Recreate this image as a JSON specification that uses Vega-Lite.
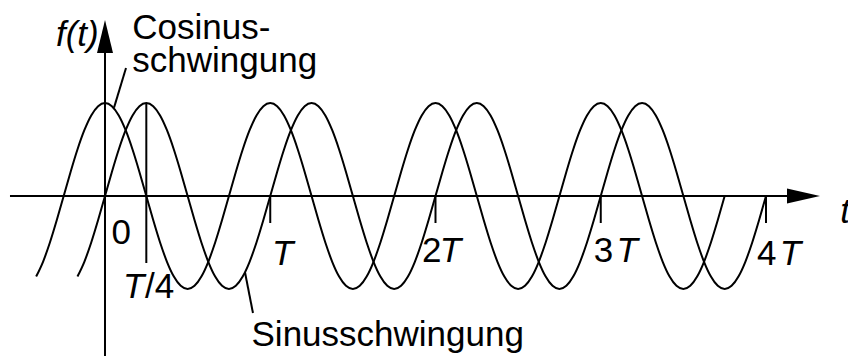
{
  "$schema": "https://vega.github.io/schema/vega-lite/v6.json",
  "width": 848,
  "height": 356,
  "padding": 0,
  "autosize": {"type": "none"},
  "background": "white",
  "config": {
    "view": {"stroke": null},
    "text": {"font": "Liberation Sans", "fontSize": 35, "color": "black", "align": "left", "baseline": "alphabetic"}
  },
  "datasets": {
    "wellen": [
      {"welle": "Cosinus", "n": -10, "f": -0.866}, {"welle": "Cosinus", "n": -9, "f": -0.7071}, {"welle": "Cosinus", "n": -8, "f": -0.5}, {"welle": "Cosinus", "n": -7, "f": -0.2588},
      {"welle": "Cosinus", "n": -6, "f": 0}, {"welle": "Cosinus", "n": -5, "f": 0.2588}, {"welle": "Cosinus", "n": -4, "f": 0.5}, {"welle": "Cosinus", "n": -3, "f": 0.7071},
      {"welle": "Cosinus", "n": -2, "f": 0.866}, {"welle": "Cosinus", "n": -1, "f": 0.9659}, {"welle": "Cosinus", "n": 0, "f": 1}, {"welle": "Cosinus", "n": 1, "f": 0.9659},
      {"welle": "Cosinus", "n": 2, "f": 0.866}, {"welle": "Cosinus", "n": 3, "f": 0.7071}, {"welle": "Cosinus", "n": 4, "f": 0.5}, {"welle": "Cosinus", "n": 5, "f": 0.2588},
      {"welle": "Cosinus", "n": 6, "f": 0}, {"welle": "Cosinus", "n": 7, "f": -0.2588}, {"welle": "Cosinus", "n": 8, "f": -0.5}, {"welle": "Cosinus", "n": 9, "f": -0.7071},
      {"welle": "Cosinus", "n": 10, "f": -0.866}, {"welle": "Cosinus", "n": 11, "f": -0.9659}, {"welle": "Cosinus", "n": 12, "f": -1}, {"welle": "Cosinus", "n": 13, "f": -0.9659},
      {"welle": "Cosinus", "n": 14, "f": -0.866}, {"welle": "Cosinus", "n": 15, "f": -0.7071}, {"welle": "Cosinus", "n": 16, "f": -0.5}, {"welle": "Cosinus", "n": 17, "f": -0.2588},
      {"welle": "Cosinus", "n": 18, "f": 0}, {"welle": "Cosinus", "n": 19, "f": 0.2588}, {"welle": "Cosinus", "n": 20, "f": 0.5}, {"welle": "Cosinus", "n": 21, "f": 0.7071},
      {"welle": "Cosinus", "n": 22, "f": 0.866}, {"welle": "Cosinus", "n": 23, "f": 0.9659}, {"welle": "Cosinus", "n": 24, "f": 1}, {"welle": "Cosinus", "n": 25, "f": 0.9659},
      {"welle": "Cosinus", "n": 26, "f": 0.866}, {"welle": "Cosinus", "n": 27, "f": 0.7071}, {"welle": "Cosinus", "n": 28, "f": 0.5}, {"welle": "Cosinus", "n": 29, "f": 0.2588},
      {"welle": "Cosinus", "n": 30, "f": 0}, {"welle": "Cosinus", "n": 31, "f": -0.2588}, {"welle": "Cosinus", "n": 32, "f": -0.5}, {"welle": "Cosinus", "n": 33, "f": -0.7071},
      {"welle": "Cosinus", "n": 34, "f": -0.866}, {"welle": "Cosinus", "n": 35, "f": -0.9659}, {"welle": "Cosinus", "n": 36, "f": -1}, {"welle": "Cosinus", "n": 37, "f": -0.9659},
      {"welle": "Cosinus", "n": 38, "f": -0.866}, {"welle": "Cosinus", "n": 39, "f": -0.7071}, {"welle": "Cosinus", "n": 40, "f": -0.5}, {"welle": "Cosinus", "n": 41, "f": -0.2588},
      {"welle": "Cosinus", "n": 42, "f": 0}, {"welle": "Cosinus", "n": 43, "f": 0.2588}, {"welle": "Cosinus", "n": 44, "f": 0.5}, {"welle": "Cosinus", "n": 45, "f": 0.7071},
      {"welle": "Cosinus", "n": 46, "f": 0.866}, {"welle": "Cosinus", "n": 47, "f": 0.9659}, {"welle": "Cosinus", "n": 48, "f": 1}, {"welle": "Cosinus", "n": 49, "f": 0.9659},
      {"welle": "Cosinus", "n": 50, "f": 0.866}, {"welle": "Cosinus", "n": 51, "f": 0.7071}, {"welle": "Cosinus", "n": 52, "f": 0.5}, {"welle": "Cosinus", "n": 53, "f": 0.2588},
      {"welle": "Cosinus", "n": 54, "f": 0}, {"welle": "Cosinus", "n": 55, "f": -0.2588}, {"welle": "Cosinus", "n": 56, "f": -0.5}, {"welle": "Cosinus", "n": 57, "f": -0.7071},
      {"welle": "Cosinus", "n": 58, "f": -0.866}, {"welle": "Cosinus", "n": 59, "f": -0.9659}, {"welle": "Cosinus", "n": 60, "f": -1}, {"welle": "Cosinus", "n": 61, "f": -0.9659},
      {"welle": "Cosinus", "n": 62, "f": -0.866}, {"welle": "Cosinus", "n": 63, "f": -0.7071}, {"welle": "Cosinus", "n": 64, "f": -0.5}, {"welle": "Cosinus", "n": 65, "f": -0.2588},
      {"welle": "Cosinus", "n": 66, "f": 0}, {"welle": "Cosinus", "n": 67, "f": 0.2588}, {"welle": "Cosinus", "n": 68, "f": 0.5}, {"welle": "Cosinus", "n": 69, "f": 0.7071},
      {"welle": "Cosinus", "n": 70, "f": 0.866}, {"welle": "Cosinus", "n": 71, "f": 0.9659}, {"welle": "Cosinus", "n": 72, "f": 1}, {"welle": "Cosinus", "n": 73, "f": 0.9659},
      {"welle": "Cosinus", "n": 74, "f": 0.866}, {"welle": "Cosinus", "n": 75, "f": 0.7071}, {"welle": "Cosinus", "n": 76, "f": 0.5}, {"welle": "Cosinus", "n": 77, "f": 0.2588},
      {"welle": "Cosinus", "n": 78, "f": 0}, {"welle": "Cosinus", "n": 79, "f": -0.2588}, {"welle": "Cosinus", "n": 80, "f": -0.5}, {"welle": "Cosinus", "n": 81, "f": -0.7071},
      {"welle": "Cosinus", "n": 82, "f": -0.866}, {"welle": "Cosinus", "n": 83, "f": -0.9659}, {"welle": "Cosinus", "n": 84, "f": -1}, {"welle": "Cosinus", "n": 85, "f": -0.9659},
      {"welle": "Cosinus", "n": 86, "f": -0.866}, {"welle": "Cosinus", "n": 87, "f": -0.7071}, {"welle": "Cosinus", "n": 88, "f": -0.5}, {"welle": "Cosinus", "n": 89, "f": -0.2588},
      {"welle": "Cosinus", "n": 90, "f": 0},
      {"welle": "Sinus", "n": -4, "f": -0.866}, {"welle": "Sinus", "n": -3, "f": -0.7071}, {"welle": "Sinus", "n": -2, "f": -0.5}, {"welle": "Sinus", "n": -1, "f": -0.2588},
      {"welle": "Sinus", "n": 0, "f": 0}, {"welle": "Sinus", "n": 1, "f": 0.2588}, {"welle": "Sinus", "n": 2, "f": 0.5}, {"welle": "Sinus", "n": 3, "f": 0.7071},
      {"welle": "Sinus", "n": 4, "f": 0.866}, {"welle": "Sinus", "n": 5, "f": 0.9659}, {"welle": "Sinus", "n": 6, "f": 1}, {"welle": "Sinus", "n": 7, "f": 0.9659},
      {"welle": "Sinus", "n": 8, "f": 0.866}, {"welle": "Sinus", "n": 9, "f": 0.7071}, {"welle": "Sinus", "n": 10, "f": 0.5}, {"welle": "Sinus", "n": 11, "f": 0.2588},
      {"welle": "Sinus", "n": 12, "f": 0}, {"welle": "Sinus", "n": 13, "f": -0.2588}, {"welle": "Sinus", "n": 14, "f": -0.5}, {"welle": "Sinus", "n": 15, "f": -0.7071},
      {"welle": "Sinus", "n": 16, "f": -0.866}, {"welle": "Sinus", "n": 17, "f": -0.9659}, {"welle": "Sinus", "n": 18, "f": -1}, {"welle": "Sinus", "n": 19, "f": -0.9659},
      {"welle": "Sinus", "n": 20, "f": -0.866}, {"welle": "Sinus", "n": 21, "f": -0.7071}, {"welle": "Sinus", "n": 22, "f": -0.5}, {"welle": "Sinus", "n": 23, "f": -0.2588},
      {"welle": "Sinus", "n": 24, "f": 0}, {"welle": "Sinus", "n": 25, "f": 0.2588}, {"welle": "Sinus", "n": 26, "f": 0.5}, {"welle": "Sinus", "n": 27, "f": 0.7071},
      {"welle": "Sinus", "n": 28, "f": 0.866}, {"welle": "Sinus", "n": 29, "f": 0.9659}, {"welle": "Sinus", "n": 30, "f": 1}, {"welle": "Sinus", "n": 31, "f": 0.9659},
      {"welle": "Sinus", "n": 32, "f": 0.866}, {"welle": "Sinus", "n": 33, "f": 0.7071}, {"welle": "Sinus", "n": 34, "f": 0.5}, {"welle": "Sinus", "n": 35, "f": 0.2588},
      {"welle": "Sinus", "n": 36, "f": 0}, {"welle": "Sinus", "n": 37, "f": -0.2588}, {"welle": "Sinus", "n": 38, "f": -0.5}, {"welle": "Sinus", "n": 39, "f": -0.7071},
      {"welle": "Sinus", "n": 40, "f": -0.866}, {"welle": "Sinus", "n": 41, "f": -0.9659}, {"welle": "Sinus", "n": 42, "f": -1}, {"welle": "Sinus", "n": 43, "f": -0.9659},
      {"welle": "Sinus", "n": 44, "f": -0.866}, {"welle": "Sinus", "n": 45, "f": -0.7071}, {"welle": "Sinus", "n": 46, "f": -0.5}, {"welle": "Sinus", "n": 47, "f": -0.2588},
      {"welle": "Sinus", "n": 48, "f": 0}, {"welle": "Sinus", "n": 49, "f": 0.2588}, {"welle": "Sinus", "n": 50, "f": 0.5}, {"welle": "Sinus", "n": 51, "f": 0.7071},
      {"welle": "Sinus", "n": 52, "f": 0.866}, {"welle": "Sinus", "n": 53, "f": 0.9659}, {"welle": "Sinus", "n": 54, "f": 1}, {"welle": "Sinus", "n": 55, "f": 0.9659},
      {"welle": "Sinus", "n": 56, "f": 0.866}, {"welle": "Sinus", "n": 57, "f": 0.7071}, {"welle": "Sinus", "n": 58, "f": 0.5}, {"welle": "Sinus", "n": 59, "f": 0.2588},
      {"welle": "Sinus", "n": 60, "f": 0}, {"welle": "Sinus", "n": 61, "f": -0.2588}, {"welle": "Sinus", "n": 62, "f": -0.5}, {"welle": "Sinus", "n": 63, "f": -0.7071},
      {"welle": "Sinus", "n": 64, "f": -0.866}, {"welle": "Sinus", "n": 65, "f": -0.9659}, {"welle": "Sinus", "n": 66, "f": -1}, {"welle": "Sinus", "n": 67, "f": -0.9659},
      {"welle": "Sinus", "n": 68, "f": -0.866}, {"welle": "Sinus", "n": 69, "f": -0.7071}, {"welle": "Sinus", "n": 70, "f": -0.5}, {"welle": "Sinus", "n": 71, "f": -0.2588},
      {"welle": "Sinus", "n": 72, "f": 0}, {"welle": "Sinus", "n": 73, "f": 0.2588}, {"welle": "Sinus", "n": 74, "f": 0.5}, {"welle": "Sinus", "n": 75, "f": 0.7071},
      {"welle": "Sinus", "n": 76, "f": 0.866}, {"welle": "Sinus", "n": 77, "f": 0.9659}, {"welle": "Sinus", "n": 78, "f": 1}, {"welle": "Sinus", "n": 79, "f": 0.9659},
      {"welle": "Sinus", "n": 80, "f": 0.866}, {"welle": "Sinus", "n": 81, "f": 0.7071}, {"welle": "Sinus", "n": 82, "f": 0.5}, {"welle": "Sinus", "n": 83, "f": 0.2588},
      {"welle": "Sinus", "n": 84, "f": 0}, {"welle": "Sinus", "n": 85, "f": -0.2588}, {"welle": "Sinus", "n": 86, "f": -0.5}, {"welle": "Sinus", "n": 87, "f": -0.7071},
      {"welle": "Sinus", "n": 88, "f": -0.866}, {"welle": "Sinus", "n": 89, "f": -0.9659}, {"welle": "Sinus", "n": 90, "f": -1}, {"welle": "Sinus", "n": 91, "f": -0.9659},
      {"welle": "Sinus", "n": 92, "f": -0.866}, {"welle": "Sinus", "n": 93, "f": -0.7071}, {"welle": "Sinus", "n": 94, "f": -0.5}, {"welle": "Sinus", "n": 95, "f": -0.2588},
      {"welle": "Sinus", "n": 96, "f": 0}
    ],
    "linien": [
      {"teil": "t-Achse", "n1": -13.8, "f1": 0, "n2": 99.5, "f2": 0},
      {"teil": "f-Achse", "n1": 0, "f1": -1.7204, "n2": 0, "f2": 1.57},
      {"teil": "Marke T/4", "n1": 6, "f1": 1, "n2": 6, "f2": -0.7204},
      {"teil": "Marke T", "n1": 24, "f1": 0, "n2": 24, "f2": -0.2903},
      {"teil": "Marke 2T", "n1": 48, "f1": 0, "n2": 48, "f2": -0.2903},
      {"teil": "Marke 3T", "n1": 72, "f1": 0, "n2": 72, "f2": -0.2903},
      {"teil": "Marke 4T", "n1": 96, "f1": 0, "n2": 96, "f2": -0.2903},
      {"teil": "Hinweis Cosinus", "n1": 3.05, "f1": 1.376, "n2": 1.31, "f2": 0.95},
      {"teil": "Hinweis Sinus", "n1": 20.33, "f1": -0.82, "n2": 21.49, "f2": -1.258}
    ],
    "text_normal": [
      {"txt": "Cosinus-", "n": 3.96, "f": 1.688},
      {"txt": "schwingung", "n": 3.96, "f": 1.333},
      {"txt": "Sinusschwingung", "n": 21.28, "f": -1.618},
      {"txt": "0", "n": 0.94, "f": -0.5215},
      {"txt": "/4", "n": 5.81, "f": -1.097},
      {"txt": "2", "n": 46.04, "f": -0.7065},
      {"txt": "3", "n": 71.0, "f": -0.7065},
      {"txt": "4", "n": 94.69, "f": -0.742}
    ],
    "text_kursiv": [
      {"txt": "f(t)", "n": -7.12, "f": 1.613},
      {"txt": "T", "n": 2.61, "f": -1.097},
      {"txt": "T", "n": 24.25, "f": -0.742},
      {"txt": "T", "n": 48.6, "f": -0.7065},
      {"txt": "T", "n": 74.3, "f": -0.7065},
      {"txt": "T", "n": 98.0, "f": -0.742},
      {"txt": "t", "n": 106.8, "f": -0.2903}
    ]
  },
  "layer": [
    {
      "data": {"name": "wellen"},
      "mark": {"type": "line", "interpolate": "monotone", "stroke": "black", "strokeWidth": 2},
      "encoding": {
        "x": {"field": "n", "type": "quantitative", "scale": {"domain": [-15.2496, 107.9093], "nice": false, "zero": false}, "axis": null},
        "y": {"field": "f", "type": "quantitative", "scale": {"domain": [-1.72043, 2.10753], "nice": false, "zero": false}, "axis": null},
        "detail": {"field": "welle", "type": "nominal"}
      }
    },
    {
      "data": {"name": "linien"},
      "mark": {"type": "rule", "stroke": "black", "strokeWidth": 2},
      "encoding": {
        "x": {"field": "n1", "type": "quantitative", "axis": null},
        "y": {"field": "f1", "type": "quantitative", "axis": null},
        "x2": {"field": "n2"},
        "y2": {"field": "f2"}
      }
    },
    {
      "data": {"values": [{"n": 101.445, "f": 0}]},
      "mark": {"type": "point", "filled": true, "fill": "black", "strokeWidth": 0, "opacity": 1, "size": 1089, "shape": "M-1,-0.4545L1,0L-1,0.4545Z"},
      "encoding": {
        "x": {"field": "n", "type": "quantitative", "axis": null},
        "y": {"field": "f", "type": "quantitative", "axis": null}
      }
    },
    {
      "data": {"values": [{"n": 0, "f": 1.715}]},
      "mark": {"type": "point", "filled": true, "fill": "black", "strokeWidth": 0, "opacity": 1, "size": 1089, "shape": "M-0.4848,1L0,-1L0.4848,1Z"},
      "encoding": {
        "x": {"field": "n", "type": "quantitative", "axis": null},
        "y": {"field": "f", "type": "quantitative", "axis": null}
      }
    },
    {
      "data": {"name": "text_normal"},
      "mark": {"type": "text"},
      "encoding": {
        "x": {"field": "n", "type": "quantitative", "axis": null},
        "y": {"field": "f", "type": "quantitative", "axis": null},
        "text": {"field": "txt"}
      }
    },
    {
      "data": {"name": "text_kursiv"},
      "mark": {"type": "text", "fontStyle": "italic"},
      "encoding": {
        "x": {"field": "n", "type": "quantitative", "axis": null},
        "y": {"field": "f", "type": "quantitative", "axis": null},
        "text": {"field": "txt"}
      }
    }
  ]
}
